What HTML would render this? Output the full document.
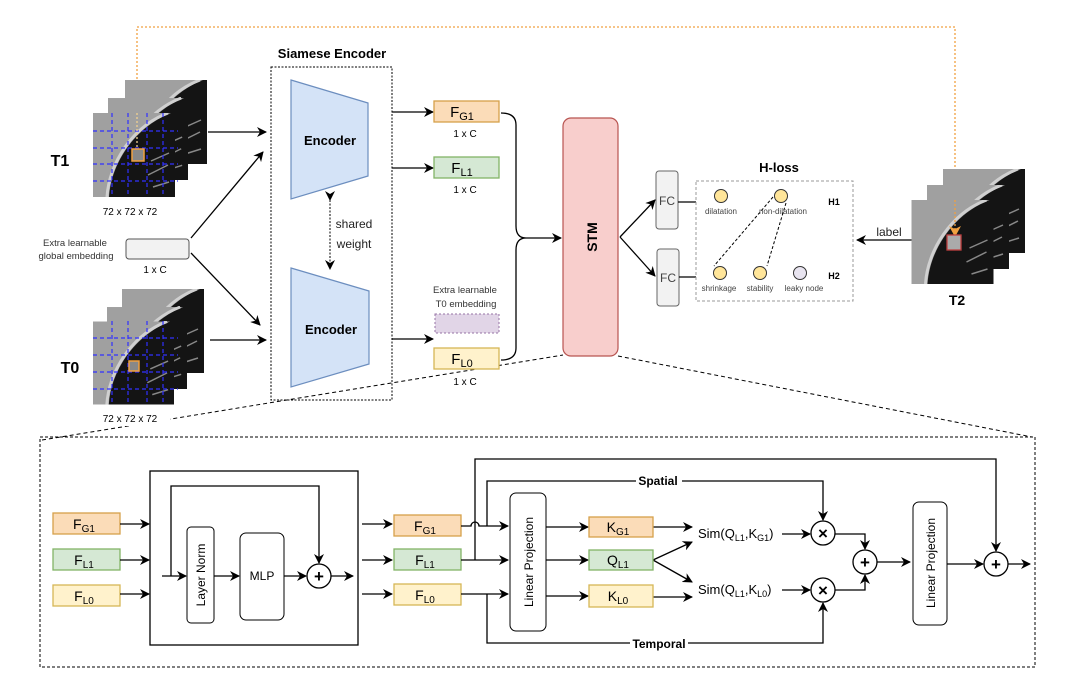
<!DOCTYPE html>
<html><head><meta charset="utf-8"><style>
html,body{margin:0;padding:0;background:#fff}
svg{display:block;font-family:"Liberation Sans",Arial,sans-serif}
</style></head><body>
<svg width="1074" height="690" viewBox="0 0 1074 690" xmlns="http://www.w3.org/2000/svg">
<defs>
<marker id="a" markerWidth="10" markerHeight="10" refX="9" refY="5" orient="auto" markerUnits="userSpaceOnUse"><path d="M0,0 L10,5 L0,10 L3,5 Z" fill="#000"/></marker>
<marker id="ao" markerWidth="12" markerHeight="12" refX="10" refY="6" orient="auto" markerUnits="userSpaceOnUse"><path d="M0,0 L11,6 L0,12 L3,6 Z" fill="#f0a040"/></marker>
<symbol id="ct" viewBox="0 0 82 84">
<rect width="82" height="84" fill="#a0a0a0"/>
<path d="M16,84 C18,50 42,14 78,0 L82,0 L82,84 Z" fill="#141414"/>
<path d="M14,84 C16,50 40,13 75,0" stroke="#d0d0d0" stroke-width="3" fill="none"/>
<path d="M58,48 l18,-8 M55,62 l20,-10 M60,74 l16,-5" stroke="#888" stroke-width="1.5"/>
</symbol>
</defs>

<!-- orange dotted top line -->
<path d="M137,155 L137,27 L955,27 L955,236" stroke="#f0a040" stroke-width="1.3" stroke-dasharray="2,2" fill="none" marker-end="url(#ao)"/>

<!-- T1 images -->
<use href="#ct" x="125" y="80" width="82" height="84"/>
<use href="#ct" x="108" y="97" width="80" height="84"/>
<use href="#ct" x="93" y="113" width="82" height="84"/>
<g stroke="#3030ff" stroke-width="1.2" stroke-dasharray="4,3">
<path d="M112,113V197M128,113V197M147,113V197M163,113V197M93,131H178M93,148H178M93,164H178M93,181H178"/>
</g>
<path d="M137,155 L137,113" stroke="#f0d090" stroke-width="1.3" stroke-dasharray="2,2"/>
<rect x="132" y="149" width="12" height="12" fill="#888" stroke="#f0a040" stroke-width="1.5"/>
<text x="60" y="166" font-size="16" font-weight="bold" text-anchor="middle">T1</text>
<text x="130" y="215" font-size="10" text-anchor="middle">72 x 72 x 72</text>

<!-- T0 images -->
<use href="#ct" x="122" y="289" width="82" height="84"/>
<use href="#ct" x="107" y="306" width="80" height="84"/>
<use href="#ct" x="93" y="321" width="81" height="84"/>
<g stroke="#3030ff" stroke-width="1.2" stroke-dasharray="4,3">
<path d="M112,321V405M128,321V405M147,321V405M163,321V405M93,338H178M93,355H178M93,372H178M93,389H178"/>
</g>
<rect x="129" y="361" width="10" height="10" fill="#888" stroke="#f0a040" stroke-width="1.5"/>
<text x="70" y="373" font-size="16" font-weight="bold" text-anchor="middle">T0</text>

<!-- global embedding -->
<text x="75" y="246" font-size="9.5" text-anchor="middle" fill="#333">Extra learnable</text>
<text x="76" y="259" font-size="9.5" text-anchor="middle" fill="#333">global embedding</text>
<rect x="126" y="239" width="63" height="20" rx="3" fill="#f2f2f2" stroke="#555"/>
<text x="155" y="273" font-size="10" text-anchor="middle">1 x C</text>

<!-- zoom dashed lines -->
<path d="M42,440 L563,355" stroke="#000" stroke-dasharray="4,3"/>
<path d="M618,356 L1032,437" stroke="#000" stroke-dasharray="4,3"/>
<rect x="92" y="412" width="78" height="14" fill="#fff"/>
<text x="130" y="422" font-size="10" text-anchor="middle">72 x 72 x 72</text>

<!-- Siamese -->
<text x="332" y="58" font-size="13" font-weight="bold" text-anchor="middle">Siamese Encoder</text>
<rect x="271" y="67" width="121" height="333" fill="none" stroke="#000" stroke-dasharray="2,1.5"/>
<path d="M291,80 L368,103 L368,176 L291,199 Z" fill="#d4e3f7" stroke="#6c8ebf" stroke-width="1.2"/>
<text x="330" y="145" font-size="13" font-weight="bold" text-anchor="middle">Encoder</text>
<path d="M291,268 L369,291 L369,364 L291,387 Z" fill="#d4e3f7" stroke="#6c8ebf" stroke-width="1.2"/>
<text x="331" y="334" font-size="13" font-weight="bold" text-anchor="middle">Encoder</text>
<path d="M330,200 L330,269" stroke="#000" stroke-dasharray="2,1.5" marker-end="url(#a)" marker-start="url(#a)"/>
<text x="354" y="228" font-size="12" text-anchor="middle" fill="#222">shared</text>
<text x="354" y="248" font-size="12" text-anchor="middle" fill="#222">weight</text>

<!-- input arrows -->
<g stroke="#000" stroke-width="1.3" fill="none" marker-end="url(#a)">
<path d="M208,132 L266,132"/>
<path d="M191,238 L263,152"/>
<path d="M191,253 L260,325"/>
<path d="M210,340 L266,340"/>
<path d="M392,112 L433,112"/>
<path d="M392,168 L433,168"/>
<path d="M392,339 L433,339"/>
</g>

<!-- feature boxes -->
<rect x="434" y="101" width="65" height="21" fill="#fbdcb8" stroke="#d6a04a" stroke-width="1.3"/>
<text x="462" y="117" font-size="15" text-anchor="middle">F<tspan font-size="11" dy="3">G1</tspan></text>
<text x="465" y="137" font-size="10" text-anchor="middle">1 x C</text>
<rect x="434" y="157" width="65" height="21" fill="#d5e8d4" stroke="#82b366" stroke-width="1.3"/>
<text x="462" y="173" font-size="15" text-anchor="middle">F<tspan font-size="11" dy="3">L1</tspan></text>
<text x="465" y="193" font-size="10" text-anchor="middle">1 x C</text>
<text x="465" y="293" font-size="9.5" text-anchor="middle" fill="#333">Extra learnable</text>
<text x="466" y="307" font-size="9.5" text-anchor="middle" fill="#333">T0 embedding</text>
<rect x="435" y="314" width="64" height="19" fill="#e1d5e7" stroke="#9673a6" stroke-dasharray="2,2"/>
<rect x="434" y="348" width="65" height="21" fill="#fff2cc" stroke="#d6b656" stroke-width="1.3"/>
<text x="462" y="364" font-size="15" text-anchor="middle">F<tspan font-size="11" dy="3">L0</tspan></text>
<text x="465" y="385" font-size="10" text-anchor="middle">1 x C</text>

<!-- brace -->
<path d="M501,113 Q516,113 516,125 L516,226 Q516,238 526,238 Q516,238 516,250 L516,348 Q516,360 501,360" stroke="#000" stroke-width="1.3" fill="none"/>
<path d="M526,238 L561,238" stroke="#000" stroke-width="1.3" marker-end="url(#a)"/>

<!-- STM -->
<rect x="563" y="118" width="55" height="238" rx="8" fill="#f8cecc" stroke="#b85450" stroke-width="1.2"/>
<text transform="translate(597,237) rotate(-90)" font-size="14" font-weight="bold" text-anchor="middle">STM</text>
<g stroke="#000" stroke-width="1.3" fill="none" marker-end="url(#a)">
<path d="M620,237 L655,200"/>
<path d="M620,237 L655,276"/>
</g>
<rect x="656" y="171" width="22" height="58" rx="3" fill="#f2f2f2" stroke="#666"/>
<text x="667" y="205" font-size="12" text-anchor="middle" fill="#444">FC</text>
<rect x="657" y="249" width="22" height="57" rx="3" fill="#f2f2f2" stroke="#666"/>
<text x="668" y="282" font-size="12" text-anchor="middle" fill="#444">FC</text>
<path d="M678,202 L696,202 M679,277 L696,277" stroke="#000" stroke-width="1.2"/>

<!-- H-loss -->
<text x="779" y="172" font-size="13" font-weight="bold" text-anchor="middle">H-loss</text>
<rect x="696" y="181" width="157" height="120" fill="none" stroke="#999" stroke-dasharray="3,2"/>
<path d="M773,197 L714,266 M786,203 L767,266" stroke="#000" stroke-dasharray="3,2"/>
<g stroke="#333" stroke-width="1"><circle cx="721" cy="196" r="6.5" fill="#ffe599"/><circle cx="781" cy="196" r="6.5" fill="#ffe599"/><circle cx="720" cy="273" r="6.5" fill="#ffe599"/><circle cx="760" cy="273" r="6.5" fill="#ffe599"/><circle cx="800" cy="273" r="6.5" fill="#e8e4f0"/></g>
<g font-size="8" fill="#444" text-anchor="middle">
<text x="721" y="214">dilatation</text><text x="783" y="214">non-dilatation</text>
<text x="719" y="291">shrinkage</text><text x="760" y="291">stability</text><text x="804" y="291">leaky node</text></g>
<text x="834" y="205" font-size="9" font-weight="bold" text-anchor="middle">H1</text>
<text x="834" y="279" font-size="9" font-weight="bold" text-anchor="middle">H2</text>
<path d="M912,240 L857,240" stroke="#000" stroke-width="1.3" marker-end="url(#a)"/>
<text x="889" y="236" font-size="12" text-anchor="middle" fill="#222">label</text>

<!-- T2 -->
<use href="#ct" x="943" y="169" width="82" height="84"/>
<use href="#ct" x="927" y="185" width="82" height="84"/>
<use href="#ct" x="911" y="200" width="83" height="84"/>
<path d="M955,200 L955,236" stroke="#f0a040" stroke-width="1.3" stroke-dasharray="2,2" marker-end="url(#ao)"/>
<rect x="947" y="235" width="14" height="15" fill="#aaa" stroke="#c04040" stroke-width="1.3"/>
<text x="957" y="305" font-size="14" font-weight="bold" text-anchor="middle">T2</text>

<!-- bottom box -->
<rect x="40" y="437" width="995" height="230" fill="none" stroke="#000" stroke-dasharray="3,2"/>

<rect x="53" y="513" width="67" height="21" fill="#fbdcb8" stroke="#d6a04a" stroke-width="1.3"/>
<text x="84" y="529" font-size="14" text-anchor="middle">F<tspan font-size="10" dy="3">G1</tspan></text>
<rect x="53" y="549" width="67" height="21" fill="#d5e8d4" stroke="#82b366" stroke-width="1.3"/>
<text x="84" y="565" font-size="14" text-anchor="middle">F<tspan font-size="10" dy="3">L1</tspan></text>
<rect x="53" y="585" width="67" height="21" fill="#fff2cc" stroke="#d6b656" stroke-width="1.3"/>
<text x="84" y="601" font-size="14" text-anchor="middle">F<tspan font-size="10" dy="3">L0</tspan></text>

<rect x="150" y="471" width="208" height="174" fill="none" stroke="#000" stroke-width="1.3"/>
<rect x="187" y="527" width="27" height="96" rx="4" fill="#fff" stroke="#000"/>
<text transform="translate(205,575) rotate(-90)" font-size="12" text-anchor="middle">Layer Norm</text>
<rect x="240" y="533" width="44" height="87" rx="6" fill="#fff" stroke="#000"/>
<text x="262" y="580" font-size="12" text-anchor="middle">MLP</text>
<circle cx="319" cy="576" r="12" fill="#fff" stroke="#000" stroke-width="1.3"/>
<text x="319" y="582" font-size="17" font-weight="bold" text-anchor="middle">+</text>

<g stroke="#000" stroke-width="1.3" fill="none" marker-end="url(#a)">
<path d="M120,524 L149,524"/><path d="M120,560 L149,560"/><path d="M120,594 L149,594"/>
<path d="M162,576 L186,576"/>
<path d="M171,576 L171,486 L319,486 L319,563"/>
<path d="M214,576 L239,576"/>
<path d="M284,576 L306,576"/>
<path d="M331,576 L353,576"/>
<path d="M362,524 L392,524"/><path d="M362,560 L392,560"/><path d="M362,594 L392,594"/>
</g>

<rect x="394" y="515" width="67" height="21" fill="#fbdcb8" stroke="#d6a04a" stroke-width="1.3"/>
<text x="425" y="531" font-size="14" text-anchor="middle">F<tspan font-size="10" dy="3">G1</tspan></text>
<rect x="394" y="549" width="67" height="21" fill="#d5e8d4" stroke="#82b366" stroke-width="1.3"/>
<text x="425" y="565" font-size="14" text-anchor="middle">F<tspan font-size="10" dy="3">L1</tspan></text>
<rect x="394" y="584" width="67" height="21" fill="#fff2cc" stroke="#d6b656" stroke-width="1.3"/>
<text x="425" y="600" font-size="14" text-anchor="middle">F<tspan font-size="10" dy="3">L0</tspan></text>

<rect x="510" y="493" width="36" height="138" rx="6" fill="#fff" stroke="#000"/>
<text transform="translate(533,562) rotate(-90)" font-size="12" text-anchor="middle">Linear Projection</text>

<g stroke="#000" stroke-width="1.3" fill="none">
<path d="M461,526 L471,526 A4,4 0 0 1 479,526 L508,526" marker-end="url(#a)"/>
<path d="M461,560 L508,560" marker-end="url(#a)"/>
<path d="M461,594 L508,594" marker-end="url(#a)"/>
<path d="M475,560 L475,459 L996,459 L996,551" marker-end="url(#a)"/>
<path d="M487,526 L487,481 L823,481 L823,520" marker-end="url(#a)"/>
<path d="M487,594 L487,643 L823,643 L823,603" marker-end="url(#a)"/>
<path d="M546,527 L588,527" marker-end="url(#a)"/>
<path d="M546,560 L588,560" marker-end="url(#a)"/>
<path d="M546,596 L588,596" marker-end="url(#a)"/>
<path d="M653,527 L692,527" marker-end="url(#a)"/>
<path d="M653,560 L692,542" marker-end="url(#a)"/>
<path d="M653,560 L692,582" marker-end="url(#a)"/>
<path d="M653,597 L692,597" marker-end="url(#a)"/>
<path d="M782,534 L810,534" marker-end="url(#a)"/>
<path d="M782,590 L810,590" marker-end="url(#a)"/>
<path d="M835,534 L865,534 L865,549" marker-end="url(#a)"/>
<path d="M835,590 L865,590 L865,575" marker-end="url(#a)"/>
<path d="M877,562 L910,562" marker-end="url(#a)"/>
<path d="M947,564 L983,564" marker-end="url(#a)"/>
<path d="M1008,564 L1030,564" marker-end="url(#a)"/>
</g>
<rect x="636" y="473" width="46" height="15" fill="#fff"/>
<text x="658" y="485" font-size="12" font-weight="bold" text-anchor="middle">Spatial</text>
<rect x="630" y="636" width="58" height="15" fill="#fff"/>
<text x="659" y="648" font-size="12" font-weight="bold" text-anchor="middle">Temporal</text>

<rect x="589" y="517" width="64" height="20" fill="#fbdcb8" stroke="#d6a04a" stroke-width="1.3"/>
<text x="618" y="532" font-size="14" text-anchor="middle">K<tspan font-size="10" dy="3">G1</tspan></text>
<rect x="589" y="550" width="64" height="20" fill="#d5e8d4" stroke="#82b366" stroke-width="1.3"/>
<text x="618" y="565" font-size="14" text-anchor="middle">Q<tspan font-size="10" dy="3">L1</tspan></text>
<rect x="589" y="585" width="64" height="22" fill="#fff2cc" stroke="#d6b656" stroke-width="1.3"/>
<text x="618" y="601" font-size="14" text-anchor="middle">K<tspan font-size="10" dy="3">L0</tspan></text>

<text x="698" y="538" font-size="13">Sim(Q<tspan font-size="9" dy="3">L1</tspan><tspan dy="-3">,K</tspan><tspan font-size="9" dy="3">G1</tspan><tspan dy="-3">)</tspan></text>
<text x="698" y="594" font-size="13">Sim(Q<tspan font-size="9" dy="3">L1</tspan><tspan dy="-3">,K</tspan><tspan font-size="9" dy="3">L0</tspan><tspan dy="-3">)</tspan></text>

<g stroke="#000" stroke-width="1.3" fill="#fff">
<circle cx="823" cy="533" r="12"/><circle cx="823" cy="590" r="12"/><circle cx="865" cy="562" r="12"/><circle cx="996" cy="564" r="12"/>
</g>
<g font-size="17" font-weight="bold" text-anchor="middle">
<text x="823" y="539">×</text><text x="823" y="596">×</text><text x="865" y="568">+</text><text x="996" y="570">+</text>
</g>

<rect x="913" y="502" width="34" height="123" rx="6" fill="#fff" stroke="#000"/>
<text transform="translate(935,563) rotate(-90)" font-size="12" text-anchor="middle">Linear Projection</text>
</svg>
</body></html>
